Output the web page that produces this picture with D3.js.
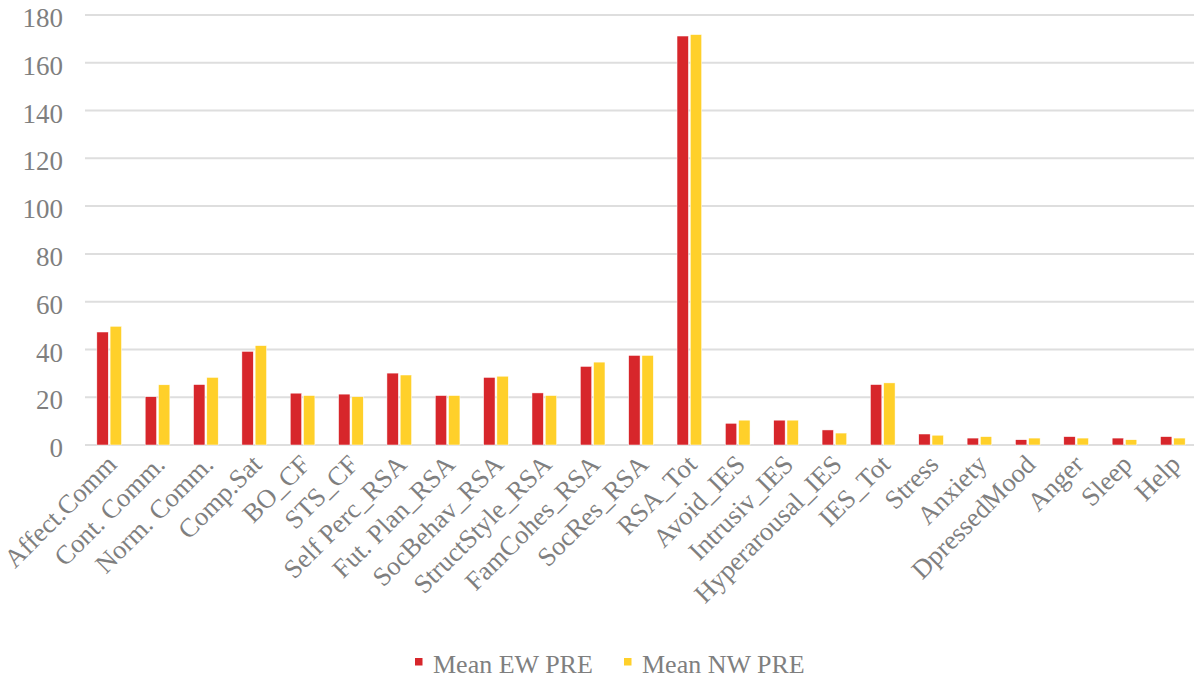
<!DOCTYPE html>
<html><head><meta charset="utf-8">
<script src="https://cdn.jsdelivr.net/npm/d3@7"></script>
<style>body{margin:0;background:#fff;}svg{display:block;}</style>
</head><body><svg id="c" width="1194" height="681"></svg>
<script>
const categories = ["Affect.Comm","Cont. Comm.","Norm. Comm.","Comp.Sat","BO_CF","STS_CF","Self Perc_RSA","Fut. Plan_RSA","SocBehav_RSA","StructStyle_RSA","FamCohes_RSA","SocRes_RSA","RSA_Tot","Avoid_IES","Intrusiv_IES","Hyperarousal_IES","IES_Tot","Stress","Anxiety","DpressedMood","Anger","Sleep","Help"];
const meanEW = [47.3,20.2,25.3,39.2,21.7,21.3,30.1,20.7,28.3,21.8,32.9,37.5,171.2,9.1,10.4,6.3,25.3,4.6,2.9,2.2,3.5,2.9,3.5];
const meanNW = [49.7,25.2,28.3,41.6,20.7,20.2,29.3,20.7,28.8,20.7,34.7,37.5,171.8,10.4,10.4,5.0,26.0,4.1,3.5,2.9,2.9,2.2,2.9];
const seriesNames = ["Mean EW PRE","Mean NW PRE"];
const yTicks = [0,20,40,60,80,100,120,140,160,180];

const colors = ["#D7262B","#FFD02A"];
const svg = d3.select("#c");
const x0 = d3.scaleBand().domain(categories).range([85,1197]).paddingInner(0.49).paddingOuter(0.245);
const x1 = d3.scaleBand().domain([0,1]).range([0,x0.bandwidth()]).paddingInner(0.14);
const y = d3.scaleLinear().domain([0,180]).range([445,15]);
const font = "'Liberation Serif','Times New Roman',serif";
const txt = "#7f7f7f";

// gridlines
svg.append("g").selectAll("line").data(yTicks).join("line")
  .attr("x1",85).attr("x2",1194).attr("y1",d=>y(d)).attr("y2",d=>y(d))
  .attr("stroke","#dedede").attr("stroke-width",2);

// y axis labels
const yAxis = d3.axisLeft(y).tickValues(yTicks).tickSize(0).tickPadding(0);
const gy = svg.append("g").attr("transform","translate(63,3)").call(yAxis)
  .attr("font-family",font).attr("font-size",27);
gy.select(".domain").remove();
gy.selectAll("text").style("font-family",font).style("font-size","27px").attr("fill",txt);

// bars
const series = [meanEW, meanNW];
series.forEach((vals,si)=>{
  svg.append("g").selectAll("rect").data(vals).join("rect")
    .attr("x",(d,i)=>x0(categories[i])+x1(si))
    .attr("width",x1.bandwidth())
    .attr("y",d=>y(d)).attr("height",d=>y(0)-y(d))
    .attr("fill",colors[si]).attr("stroke","#fff").attr("stroke-width",0.5);
});

// x labels
const xAxis = d3.axisBottom(x0).tickSize(0).tickPadding(0);
const gx = svg.append("g").attr("transform","translate(0,445)").call(xAxis)
  .attr("font-family",font).attr("font-size",26.5);
gx.select(".domain").remove();
gx.selectAll("text").style("font-family",font).style("font-size","26.5px").attr("fill",txt)
  .attr("text-anchor","end").attr("dy",null).attr("y",0)
  .attr("transform","translate(9,21) rotate(-45)");

// legend
const leg = svg.append("g");
const lx = [415,624];
seriesNames.forEach((n,i)=>{
  leg.append("rect").attr("x",lx[i]).attr("y",658).attr("width",7.5).attr("height",7.5).attr("fill",colors[i]);
  leg.append("text").attr("x",lx[i]+18).attr("y",673).text(n)
    .style("font-family",font).style("font-size","26px").attr("fill",txt);
});
</script></body></html>
